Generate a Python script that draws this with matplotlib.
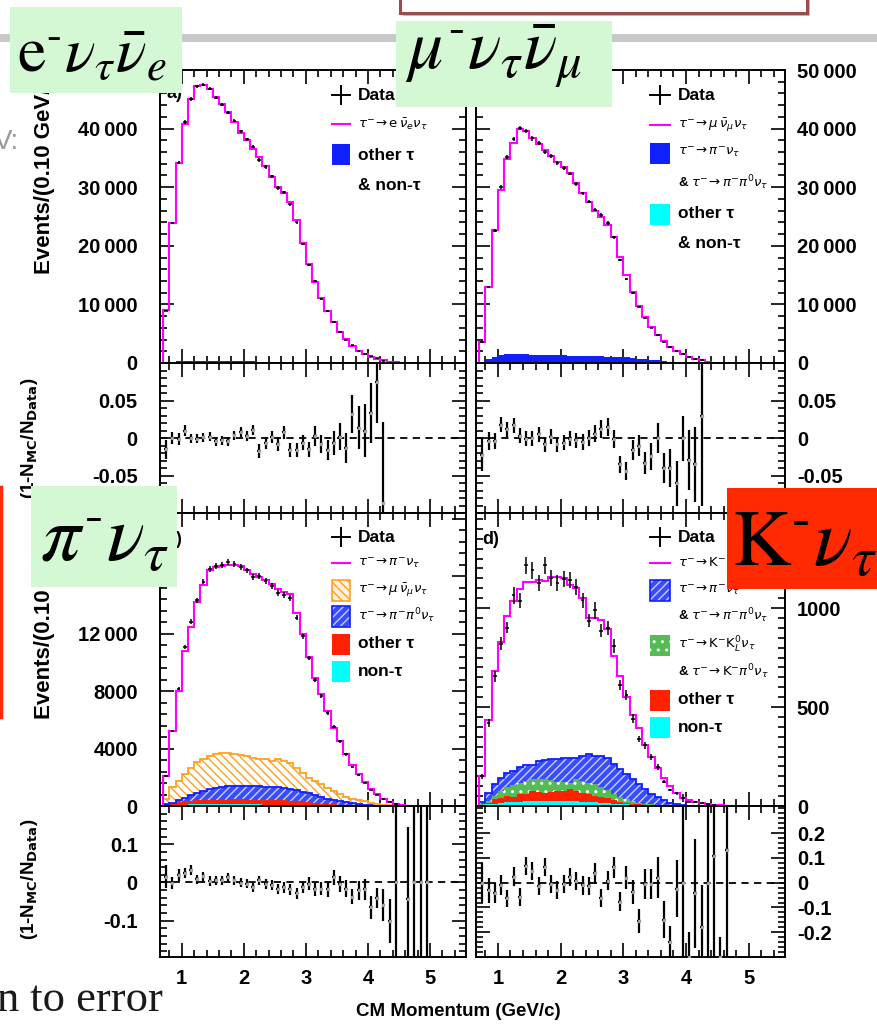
import matplotlib.pyplot as plt
import numpy as np
from matplotlib.lines import Line2D
from matplotlib.patches import Rectangle
from matplotlib.ticker import FixedLocator, FuncFormatter, MultipleLocator

plt.rcParams['font.family'] = ['Liberation Sans', 'DejaVu Sans']
plt.rcParams['axes.unicode_minus'] = False
plt.rcParams['hatch.linewidth'] = 1.0

W, H = 878, 1031
BIN_LO, BIN_W = 0.7, 0.1  # histograms start at 0.7 GeV/c, 0.10 GeV/c bins

# ---------------- a) tau -> e nu nu ----------------
e_mc = [9040, 23830, 34190, 40730, 45050, 47270, 47440, 46700, 45450, 44200,
        42890, 41180, 39190, 38050, 36460, 35210, 33670, 31800, 30090, 28950,
        27530, 24400, 20420, 16890, 13880, 11030, 8930, 7050, 5350, 4040,
        2900, 2100, 1540, 1080, 740, 450, 250, 120, 50]
e_bkg = [50, 200, 300, 350, 350, 350, 350, 350, 330, 320, 300, 300, 280, 270,
         260, 250, 240, 230, 220, 200, 180, 160, 140, 120, 100, 80, 60, 50, 40,
         30, 20, 15, 10, 5, 3, 2, 1, 0, 0]
e_ratio = [-0.015, 0.0, -0.001, 0.010, 0.0, -0.001, 0.001, 0.002, -0.004, -0.003,
           -0.004, 0.004, 0.008, 0.003, 0.011, -0.017, -0.007, 0.002, -0.008, 0.0075,
           -0.016, -0.016, -0.006, -0.015, 0.003, -0.008, -0.016, -0.006, 0.002, -0.013,
           0.032, 0.014, 0.010, 0.034, 0.075, -0.086]
e_ratio_err = [0.013, 0.008, 0.008, 0.007, 0.006, 0.006, 0.006, 0.006, 0.006, 0.006,
               0.006, 0.006, 0.007, 0.007, 0.007, 0.009, 0.008, 0.008, 0.009, 0.009,
               0.009, 0.009, 0.010, 0.010, 0.013, 0.012, 0.013, 0.016, 0.018, 0.020,
               0.025, 0.029, 0.035, 0.040, 0.055, 0.107]

# ---------------- b) tau -> mu nu nu ----------------
mu_mc = [3640, 13030, 22700, 29520, 34750, 37600, 39990, 39650, 38340, 37370,
         36350, 35320, 34360, 33500, 32360, 30660, 29070, 27530, 25990, 24970,
         23550, 21440, 18140, 15020, 12170, 9730, 7910, 6200, 4780, 3810,
         2790, 2100, 1540, 1080, 740, 450, 200]
mu_other = [20, 60, 100, 120, 130, 130, 120, 110, 100, 90, 80, 70, 60, 50, 40, 35,
            30, 25, 20, 20, 15, 15, 10, 10, 10, 5, 5, 5, 5, 0, 0, 0, 0, 0, 0, 0, 0]
mu_stack_pi = [200, 700, 1000, 1300, 1500, 1550, 1550, 1500, 1450, 1400, 1350, 1300,
               1300, 1300, 1250, 1250, 1200, 1200, 1150, 1150, 1100, 1100, 1050, 950,
               850, 750, 650, 550, 450, 350, 250, 180, 120, 70, 40, 20, 10]
mu_ratio = [-0.022, -0.004, -0.004, 0.018, 0.012, 0.017, 0.003, -0.001, 0.0, 0.005,
            -0.008, 0.002, -0.008, -0.006, -0.001, -0.003, -0.005, 0.0, 0.006, 0.012,
            0.015, -0.001, -0.035, -0.044, -0.016, -0.010, -0.033, -0.024, 0.0, -0.040,
            -0.040, -0.060, 0.0, -0.029, -0.035, 0.030]
mu_ratio_err = [0.022, 0.012, 0.011, 0.010, 0.010, 0.010, 0.010, 0.010, 0.010, 0.010,
                0.010, 0.010, 0.010, 0.010, 0.010, 0.010, 0.011, 0.011, 0.011, 0.012,
                0.012, 0.012, 0.011, 0.012, 0.013, 0.014, 0.015, 0.018, 0.020, 0.020,
                0.025, 0.030, 0.030, 0.040, 0.050, 0.120]

# ---------------- c) tau -> pi nu ----------------
pi_mc = [2090, 5230, 8010, 10800, 12430, 14220, 15380, 16450, 16610, 16680,
         16770, 16770, 16680, 16450, 16150, 15910, 15750, 15450, 15100, 14870,
         14750, 13470, 11960, 10340, 8940, 7780, 6600, 5450, 4530, 3650,
         2850, 2200, 1650, 1200, 810, 490, 300, 150, 70, 30]
pi_nontau = [20, 50, 80, 100, 110, 120, 120, 120, 120, 120, 120, 120, 120, 110, 110,
             110, 100, 100, 100, 100, 90, 80, 70, 60, 50, 40, 30, 25, 20, 15, 10, 5,
             3, 2, 0, 0, 0, 0, 0, 0]
pi_stack_other = [60, 130, 250, 320, 380, 420, 420, 450, 450, 470, 420, 480, 460, 430,
                  440, 410, 450, 430, 400, 420, 370, 330, 290, 260, 210, 170, 130, 105,
                  80, 55, 40, 25, 13, 7, 3, 0, 0, 0, 0, 0]
pi_stack_pipi = [120, 235, 420, 580, 745, 930, 1070, 1210, 1280, 1350, 1395, 1395, 1395,
                 1395, 1395, 1395, 1350, 1325, 1325, 1280, 1210, 1120, 980, 885, 745,
                 605, 510, 420, 330, 260, 190, 140, 95, 50, 20, 10, 5, 0, 0, 0]
pi_stack_mu = [470, 1350, 1745, 2210, 2670, 3070, 3250, 3490, 3600, 3670, 3670, 3600,
               3550, 3490, 3370, 3300, 3250, 3140, 3250, 3140, 3020, 2670, 2320, 1980,
               1745, 1510, 1280, 1050, 815, 650, 510, 420, 330, 235, 165, 95, 50, 20, 5, 0]
pi_ratio = [0.015, -0.001, 0.019, 0.025, 0.032, 0.008, 0.016, 0.004, 0.006, 0.006,
            0.013, 0.006, -0.001, -0.003, -0.013, 0.006, -0.004, -0.007, -0.018, -0.013,
            -0.018, -0.028, -0.013, -0.003, -0.018, -0.016, -0.018, 0.013, -0.004, -0.016,
            -0.037, -0.020, -0.018, -0.065, -0.041, -0.059, -0.100, 0.0, np.nan, -0.044,
            0.0, 0.0, 0.0]
pi_ratio_err = [0.030, 0.016, 0.015, 0.013, 0.013, 0.012, 0.012, 0.012, 0.012, 0.012,
                0.012, 0.012, 0.012, 0.012, 0.012, 0.012, 0.013, 0.013, 0.013, 0.014,
                0.014, 0.014, 0.015, 0.016, 0.017, 0.018, 0.019, 0.020, 0.021, 0.022,
                0.019, 0.025, 0.028, 0.030, 0.026, 0.042, 0.058, 1.0, np.nan, 0.19,
                1.0, 1.0, 1.0]

# ---------------- d) tau -> K nu ----------------
k_mc = [150, 433, 683, 828, 958, 1038, 1095, 1133, 1133, 1142,
        1138, 1155, 1158, 1150, 1117, 1100, 1050, 950, 950, 942,
        892, 758, 658, 550, 458, 392, 308, 250, 192, 142,
        100, 67, 42, 28, 22, 15, 8, 5, 3, 2]
k_nontau = [2, 8, 12, 15, 18, 20, 22, 24, 25, 25, 25, 26, 25, 25, 24, 24, 22, 20, 18,
            17, 15, 12, 10, 8, 6, 5, 3, 2, 1, 1, 0, 0, 0, 0, 0, 0, 0, 0, 0, 0]
k_stack_other = [3, 17, 34, 39, 50, 45, 59, 62, 76, 72, 67, 72, 76, 76, 84, 76, 67, 59,
                 50, 45, 39, 29, 22, 15, 12, 8, 5, 3, 2, 1, 0, 0, 0, 0, 0, 0, 0, 0, 0, 0]
k_stack_kk = [8, 25, 50, 76, 96, 106, 118, 126, 135, 138, 135, 130, 123, 123, 118, 135,
              126, 118, 109, 96, 79, 62, 45, 34, 25, 17, 12, 8, 5, 2, 1, 0, 0, 0, 0, 0,
              0, 0, 0, 0]
k_stack_pi = [22, 67, 113, 143, 168, 177, 197, 207, 207, 227, 231, 236, 236, 244, 241,
              244, 253, 264, 253, 253, 244, 214, 185, 160, 135, 109, 84, 62, 45, 29,
              17, 10, 5, 2, 1, 0, 0, 0, 0, 0]
k_ratio = [0.0, -0.030, -0.043, -0.010, -0.063, 0.025, -0.057, 0.068, 0.049, -0.014,
           0.064, -0.004, -0.028, -0.004, 0.022, 0.007, -0.011, -0.014, 0.038, -0.063,
           0.009, 0.062, -0.076, 0.020, -0.037, -0.155, -0.004, -0.004, 0.020, -0.149,
           -0.240, -0.024, 0.0, -0.30, -0.043, -0.18, 0.0, 0.108, -0.30, 0.134]
k_ratio_err = [0.08, 0.05, 0.04, 0.04, 0.033, 0.04, 0.037, 0.036, 0.036, 0.036,
               0.036, 0.036, 0.036, 0.036, 0.036, 0.037, 0.037, 0.037, 0.042, 0.036,
               0.04, 0.041, 0.04, 0.046, 0.05, 0.049, 0.06, 0.06, 0.083, 0.075,
               0.065, 0.115, 1.0, 0.1, 0.22, 0.17, 1.0, 1.0, 0.08, 1.0]

MAGENTA = '#ff00ff'
BLUE = '#1020ff'
CYAN = '#00ffff'
RED = '#ff2000'
ORANGE = '#ffa020'
GREEN = '#55bb55'
BOX_GREEN = '#d3f8d3'
BOX_RED = '#ff2a00'


def fx(x):
    return x / W


def fy(y):
    return 1 - y / H


def edges_for(n):
    return BIN_LO + BIN_W * np.arange(n + 1)


def centers_for(n):
    return BIN_LO + BIN_W * (np.arange(n) + 0.5)


def fmt_counts(v, pos):
    v = int(round(v))
    return f'{v:,}'.replace(',', '\u2009') if v >= 10000 else str(v)


def fmt_ratio(v, pos):
    return '0' if abs(v) < 1e-9 else f'{v:g}'


def panel(fig, xs, ys, ylim, ymajor, yminor, side, fmt, xlabels=False):
    ax = fig.add_axes([fx(xs[0]), fy(ys[1]), (xs[1] - xs[0]) / W, (ys[1] - ys[0]) / H])
    ax.set_xlim(0.65, 5.58)
    ax.set_ylim(*ylim)
    ax.xaxis.set_major_locator(MultipleLocator(1))
    ax.xaxis.set_minor_locator(MultipleLocator(0.2))
    ax.yaxis.set_major_locator(FixedLocator(ymajor))
    ax.yaxis.set_minor_locator(MultipleLocator(yminor))
    ax.yaxis.set_major_formatter(FuncFormatter(fmt))
    ax.tick_params(which='both', direction='in', top=True, right=True, width=1.2,
                   labelsize=14.5, labelbottom=xlabels)
    ax.tick_params(which='major', length=10)
    ax.tick_params(which='minor', length=5)
    ax.tick_params(axis='x', pad=9)
    ax.tick_params(axis='y', labelleft=(side == 'left'), labelright=(side == 'right'),
                   pad=16 if side == 'left' else 8.5)
    for lab in ax.get_xticklabels() + ax.get_yticklabels():
        lab.set_fontweight('bold')
    for s in ax.spines.values():
        s.set_linewidth(1.4)
    return ax


def band(ax, top, bottom, face, hatch=None, hcol=None, outline=None):
    top = np.asarray(top, float)
    bottom = np.zeros_like(top) if bottom is None else np.asarray(bottom, float)
    e = edges_for(len(top))
    ax.stairs(top, e, baseline=bottom, fill=True, facecolor=face,
              edgecolor=hcol if hcol else face, hatch=hatch, lw=0, zorder=2)
    if outline:
        ax.stairs(top, e, baseline=None, color=outline, lw=1.3, zorder=2.5)


def draw_mc(ax, mc):
    ax.stairs(mc, edges_for(len(mc)), baseline=0, color=MAGENTA, lw=1.5, zorder=5)


def draw_data(ax, mc, ratio, err):
    r = np.asarray(ratio, float)
    e = np.asarray(err, float)
    m = np.zeros(len(r))
    n = min(len(mc), len(r))
    m[:n] = mc[:n]
    d = m / (1 - r)
    ax.errorbar(centers_for(len(r)), d, yerr=d * np.minimum(e, 0.5), xerr=0.03,
                fmt='none', ecolor='black', elinewidth=1.1, zorder=6)


def draw_ratio(ax, ratio, err):
    r = np.asarray(ratio, float)
    x = centers_for(len(r))
    ax.axhline(0, color='black', lw=1.3, ls=(0, (4, 3)), zorder=1)
    ax.errorbar(x, r, yerr=err, xerr=0.03, fmt='none', ecolor='black', elinewidth=1.6, zorder=3)
    ax.plot(x, r, ls='none', marker='.', ms=3, color='0.65', zorder=4)


fig = plt.figure(figsize=(W / 100, H / 100), dpi=100)

LX, RX = (160, 466), (476, 785)
TOP, TOP_R, BOT, BOT_R = (70, 363), (363, 513), (513, 806), (806, 957)

# a) electron
ax = panel(fig, LX, TOP, (0, 50000), [0, 10000, 20000, 30000, 40000, 50000], 2000, 'left', fmt_counts)
band(ax, e_bkg, None, BLUE)
draw_mc(ax, e_mc)
draw_data(ax, e_mc, e_ratio, e_ratio_err)
ax.text(0.02, 0.95, 'a)', transform=ax.transAxes, fontsize=13, weight='bold', va='top')
ax = panel(fig, LX, TOP_R, (-0.1, 0.1), [-0.05, 0, 0.05], 0.01, 'left', fmt_ratio)
draw_ratio(ax, e_ratio, e_ratio_err)

# b) muon
ax = panel(fig, RX, TOP, (0, 50000), [0, 10000, 20000, 30000, 40000, 50000], 2000, 'right', fmt_counts)
band(ax, mu_other, None, CYAN)
band(ax, mu_stack_pi, mu_other, BLUE)
draw_mc(ax, mu_mc)
draw_data(ax, mu_mc, mu_ratio, mu_ratio_err)
ax.text(0.02, 0.95, 'b)', transform=ax.transAxes, fontsize=13, weight='bold', va='top')
ax = panel(fig, RX, TOP_R, (-0.1, 0.1), [-0.05, 0, 0.05], 0.01, 'right', fmt_ratio)
draw_ratio(ax, mu_ratio, mu_ratio_err)

# c) pion
ax = panel(fig, LX, BOT, (0, 20400), [0, 4000, 8000, 12000, 16000, 20000], 800, 'left', fmt_counts)
band(ax, pi_nontau, None, CYAN)
band(ax, pi_stack_other, pi_nontau, RED)
band(ax, pi_stack_pipi, pi_stack_other, '#3a4cff', '////', '#c8d0ff', outline=BLUE)
band(ax, pi_stack_mu, pi_stack_pipi, 'white', '\\\\\\\\', ORANGE, outline=ORANGE)
draw_mc(ax, pi_mc)
draw_data(ax, pi_mc, pi_ratio, pi_ratio_err)
ax.text(0.02, 0.94, 'c)', transform=ax.transAxes, fontsize=13, weight='bold', va='top')
ax = panel(fig, LX, BOT_R, (-0.195, 0.2), [-0.1, 0, 0.1], 0.02, 'left', fmt_ratio, xlabels=True)
draw_ratio(ax, pi_ratio, pi_ratio_err)

# d) kaon
ax = panel(fig, RX, BOT, (0, 1480), [0, 500, 1000], 50, 'right', fmt_counts)
band(ax, k_nontau, None, CYAN)
band(ax, k_stack_other, k_nontau, RED)
band(ax, k_stack_kk, k_stack_other, GREEN, '..', 'white')
band(ax, k_stack_pi, k_stack_kk, '#3a4cff', '////', '#c8d0ff', outline=BLUE)
draw_mc(ax, k_mc)
draw_data(ax, k_mc, k_ratio, k_ratio_err)
ax.text(0.02, 0.94, 'd)', transform=ax.transAxes, fontsize=13, weight='bold', va='top')
ax = panel(fig, RX, BOT_R, (-0.3, 0.31), [-0.2, -0.1, 0, 0.1, 0.2], 0.02, 'right', fmt_ratio, xlabels=True)
draw_ratio(ax, k_ratio, k_ratio_err)

# axis titles
for y0 in (68, 513):
    fig.text(fx(45), fy(y0), 'Events/(0.10 GeV/c)', rotation=90, ha='center', va='top',
             fontsize=16, weight='bold')
for yc in (438, 879):
    fig.text(fx(30), fy(yc), r'(1-N$_{\mathbf{MC}}$/N$_{\mathbf{Data}}$)', rotation=90,
             ha='center', va='center', fontsize=13.5, weight='bold')
fig.text(fx(458), fy(1012), 'CM Momentum (GeV/c)', ha='center', va='center',
         fontsize=13.5, weight='bold')


# legends (pixel positions)
def lg_cross(x0, x1, y):
    xm = (x0 + x1) / 2
    fig.add_artist(Line2D([fx(x0), fx(x1)], [fy(y), fy(y)], color='black', lw=1.4))
    fig.add_artist(Line2D([fx(xm), fx(xm)], [fy(y - 9), fy(y + 9)], color='black', lw=1.4))


def lg_line(x0, x1, y):
    fig.add_artist(Line2D([fx(x0), fx(x1)], [fy(y), fy(y)], color=MAGENTA, lw=1.5))


def lg_box(x0, x1, y, face, hatch=None, hcol=None, outline=None):
    fig.add_artist(Rectangle((fx(x0), fy(y + 10.5)), (x1 - x0) / W, 21 / H, facecolor=face,
                             edgecolor=hcol if hcol else face, hatch=hatch, lw=0))
    if outline:
        fig.add_artist(Rectangle((fx(x0), fy(y + 10.5)), (x1 - x0) / W, 21 / H,
                                 facecolor='none', edgecolor=outline, lw=1.2))


def lg_text(x, y, s, size=12.5, weight='bold'):
    fig.text(fx(x), fy(y), s, fontsize=size, weight=weight, ha='left', va='center',
             math_fontfamily='dejavusans')


DEC = 9.5
# a)
lg_cross(332, 350, 95); lg_text(358, 95, 'Data')
lg_line(332, 350, 124); lg_text(358, 124, r'$\tau^{-}\!\rightarrow\mathrm{e}\,\bar{\nu}_{e}\nu_{\tau}$', DEC, 'normal')
lg_box(332, 350, 154, BLUE); lg_text(358, 155, 'other τ')
lg_text(358, 185, '& non-τ')
# b)
lg_cross(650, 670, 95); lg_text(678, 95, 'Data')
lg_line(650, 670, 125); lg_text(678, 125, r'$\tau^{-}\!\rightarrow\mu\,\bar{\nu}_{\mu}\nu_{\tau}$', DEC, 'normal')
lg_box(650, 670, 153, BLUE); lg_text(678, 152, r'$\tau^{-}\!\rightarrow\pi^{-}\nu_{\tau}$', DEC, 'normal')
lg_text(678, 183, r'& $\tau^{-}\!\rightarrow\pi^{-}\pi^{0}\nu_{\tau}$', DEC)
lg_box(650, 670, 214, CYAN); lg_text(678, 213, 'other τ')
lg_text(678, 243, '& non-τ')
# c)
lg_cross(332, 350, 537); lg_text(358, 537, 'Data')
lg_line(332, 350, 563); lg_text(358, 563, r'$\tau^{-}\!\rightarrow\pi^{-}\nu_{\tau}$', DEC, 'normal')
lg_box(332, 350, 590, '#fff0dc', '\\\\\\\\', ORANGE, outline=ORANGE)
lg_text(358, 590, r'$\tau^{-}\!\rightarrow\mu\,\bar{\nu}_{\mu}\nu_{\tau}$', DEC, 'normal')
lg_box(332, 350, 616, '#3a4cff', '////', '#c8d0ff', outline=BLUE)
lg_text(358, 616, r'$\tau^{-}\!\rightarrow\pi^{-}\pi^{0}\nu_{\tau}$', DEC, 'normal')
lg_box(332, 350, 644, RED); lg_text(358, 644, 'other τ')
lg_box(332, 350, 671, CYAN); lg_text(358, 671, 'non-τ')
# d)
lg_cross(650, 670, 537); lg_text(678, 537, 'Data')
lg_line(650, 670, 563); lg_text(678, 563, r'$\tau^{-}\!\rightarrow\mathrm{K}^{-}\nu_{\tau}$', DEC, 'normal')
lg_box(650, 670, 590, '#3a4cff', '////', '#c8d0ff', outline=BLUE)
lg_text(678, 590, r'$\tau^{-}\!\rightarrow\pi^{-}\nu_{\tau}$', DEC, 'normal')
lg_text(678, 616, r'& $\tau^{-}\!\rightarrow\pi^{-}\pi^{0}\nu_{\tau}$', DEC)
lg_box(650, 670, 645, GREEN, '..', 'white')
lg_text(678, 645, r'$\tau^{-}\!\rightarrow\mathrm{K}^{-}\mathrm{K}^{0}_{L}\nu_{\tau}$', DEC, 'normal')
lg_text(678, 672, r'& $\tau^{-}\!\rightarrow\mathrm{K}^{-}\pi^{0}\nu_{\tau}$', DEC)
lg_box(650, 670, 700, RED); lg_text(678, 700, 'other τ')
lg_box(650, 670, 727, CYAN); lg_text(678, 727, 'non-τ')

# slide decorations on top of the figure
fig.add_artist(Rectangle((0, fy(42)), 1, 8 / H, facecolor='#c9c9c9', lw=0, zorder=15))
fig.add_artist(Rectangle((fx(403), fy(16)), 407 / W, 40 / H, facecolor='#bdbdbd', lw=0, zorder=15))
fig.add_artist(Rectangle((fx(400), fy(13)), 407 / W, 40 / H, facecolor='white',
                         edgecolor='#9b4d4d', lw=2.2, zorder=16))
fig.text(fx(-6), fy(142), 'V:', fontsize=20, color='#9a9a9a', va='center', zorder=16)
fig.add_artist(Line2D([fx(1), fx(1)], [fy(487), fy(717)], color=BOX_RED, lw=2.5, zorder=16))
fig.text(fx(-3), fy(1011), 'n to error', fontsize=32, family='Liberation Serif',
         color='#1a1a1a', va='baseline', zorder=16)


def slide_box(x0, y0, x1, y1, color, label, size, tx, ty):
    fig.add_artist(Rectangle((fx(x0), fy(y1)), (x1 - x0) / W, (y1 - y0) / H,
                             facecolor=color, lw=0, zorder=20))
    fig.text(fx(tx), fy(ty), label, fontsize=size, math_fontfamily='stix',
             ha='left', va='baseline', zorder=21)


slide_box(10, 7, 182, 93, BOX_GREEN, r'$\mathrm{e}^{\text{-}}\nu_{\tau}\bar{\nu}_{e}$', 46, 17, 72)
slide_box(396, 21, 612, 107, BOX_GREEN, r'$\mu^{\text{-}}\nu_{\tau}\bar{\nu}_{\mu}$', 50, 405, 70)
slide_box(31, 486, 177, 587, BOX_GREEN, r'$\pi^{\text{-}}\nu_{\tau}$', 57, 40, 561)
slide_box(727, 488, 878, 589, BOX_RED, r'$\mathrm{K}^{\text{-}}\nu_{\tau}$', 58, 732, 566)

fig.savefig('out.png', dpi=100)
